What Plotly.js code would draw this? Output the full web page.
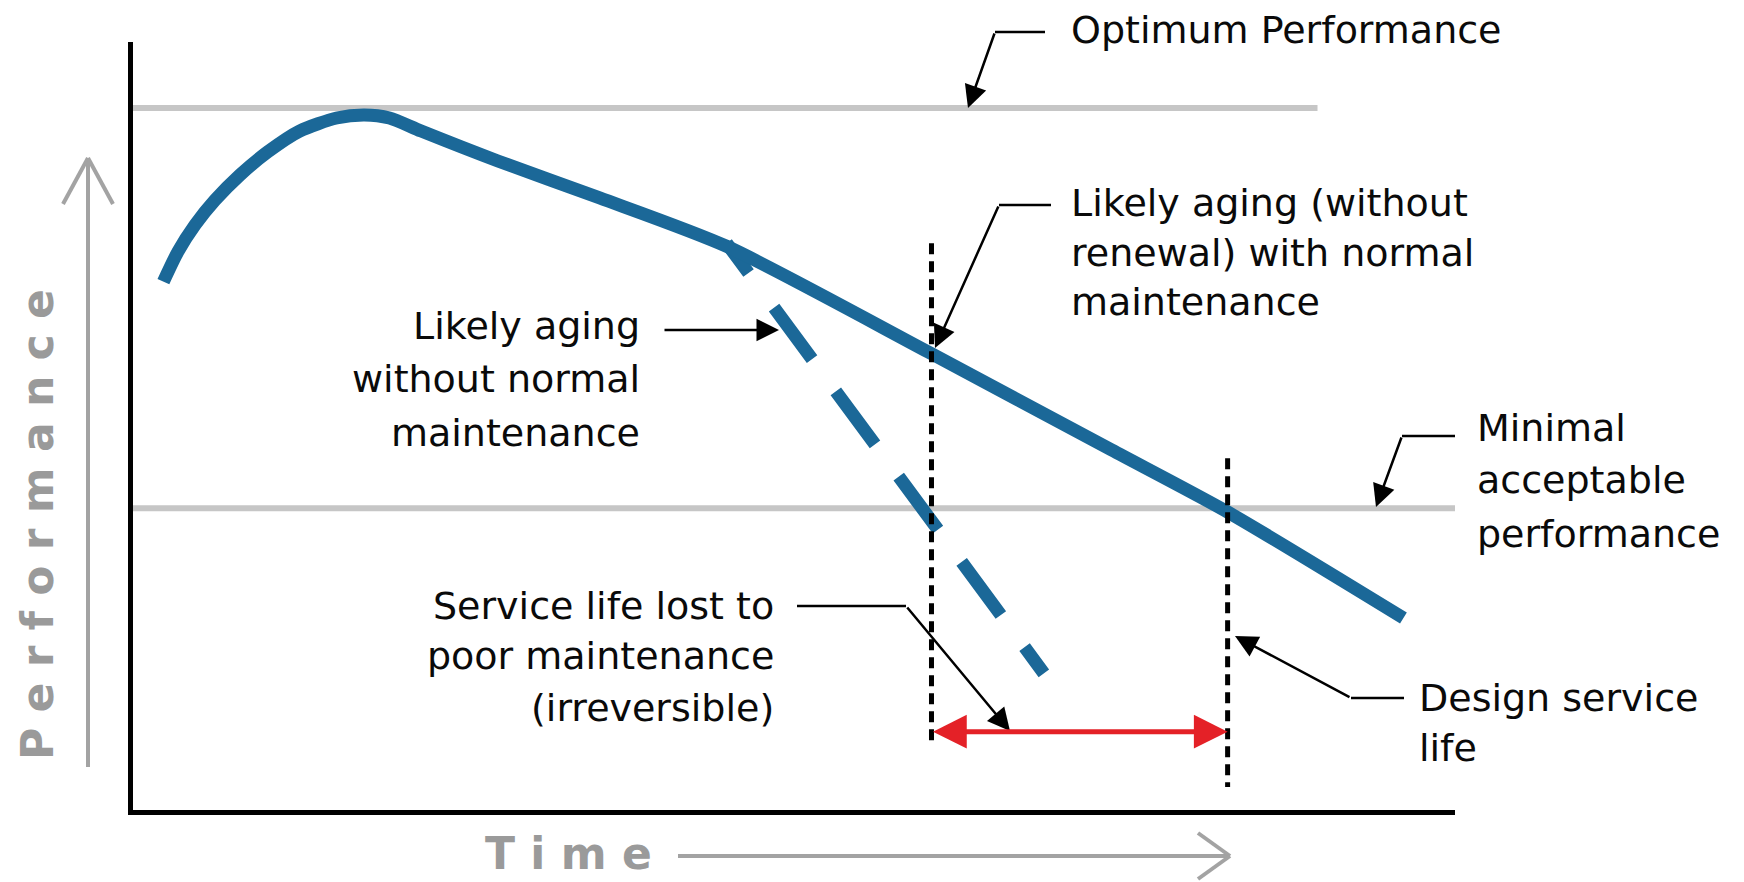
<!DOCTYPE html>
<html>
<head>
<meta charset="utf-8">
<script src="https://cdn.plot.ly/plotly-3.0.1.min.js"></script>
<style>html,body{margin:0;padding:0;background:#fff;}#chart{width:1744px;height:882px;}</style>
</head>
<body>
<div id="chart"></div>
<script>
// ---- data (schematic units: time 0-100, performance 0-100) ----
const timeMain = [2.3, 3.4, 4.7, 6.2, 8.1, 10.2, 12.6, 15.4, 17.5, 19.4, 21.8, 27.6, 35.3, 44.9, 60.2, 74.0, 82.8, 96.1];
const perfMain = [68.8, 72.7, 76.2, 79.4, 82.7, 85.7, 88.4, 90.1, 90.5, 90.1, 88.4, 84.5, 79.7, 73.4, 59.6, 46.9, 38.8, 25.0];
const timeNoMaint = [44.9, 68.9];
const perfNoMaint = [73.8, 17.8];
const optimumSpan = [0, 89.6];
const optimumLevel = [91.4, 91.4];
const minimalSpan = [0, 100];
const minimalLevel = [39.3, 39.3];
const lossStartTime = [60.4, 60.4];
const lossStartPerf = [73.8, 8.7];
const designLifeTime = [82.8, 82.8];
const designLifePerf = [45.8, 3.0];
const lostLifeArrow = {from: 60.4, to: 82.8, level: 10.2};

const optimumLines = ["Optimum Performance"];
const normalLines = ["Likely aging (without", "renewal) with normal", "maintenance"];
const noMaintLines = ["Likely aging", "without normal", "maintenance"];
const minimalLines = ["Minimal", "acceptable", "performance"];
const lostLines = ["Service life lost to", "poor maintenance", "(irreversible)"];
const designLines = ["Design service", "life"];
const yTitle = "Performance";
const xTitle = "Time";

// ---- layout geometry (pixels) ----
const PL = 133, PT = 42, PW = 1322, PH = 768;
const PX = p => (p - PL) / PW;
const PY = p => (PT + PH - p) / PH;
const BLUE = "#1b6898";
const GRAY = "#c6c6c6";
const F = 38;

function textBlock(lines, xPx, centersPx, anchor) {
  return lines.map((t, i) => ({xref: "paper", yref: "paper", x: PX(xPx), y: PY(centersPx[i]),
    xanchor: anchor, yanchor: "middle", align: anchor, text: t, showarrow: false, borderpad: 0,
    font: {family: "DejaVu Sans", size: F, color: "#0a0a0a"}}));
}
function callout(tip, tail) {
  return {xref: "paper", yref: "paper", x: PX(tip[0]), y: PY(tip[1]), ax: tail[0] - tip[0], ay: tail[1] - tip[1],
    text: "", showarrow: true, arrowhead: 2, arrowsize: 1.8, arrowwidth: 2.5, arrowcolor: "#000", standoff: 0};
}
function seg(a, b, color, width) {
  return {type: "line", xref: "paper", yref: "paper", x0: PX(a[0]), y0: PY(a[1]), x1: PX(b[0]), y1: PY(b[1]),
    line: {color: color, width: width}};
}
const spaced = s => "<b>" + s.split("").join("\u00A0") + "</b>";
const titleFont = {family: "DejaVu Sans", size: 44, color: "#9a9a9a", weight: "bold"};

const traces = [
  {x: optimumSpan, y: optimumLevel, mode: "lines", line: {color: GRAY, width: 6}, hoverinfo: "skip"},
  {x: minimalSpan, y: minimalLevel, mode: "lines", line: {color: GRAY, width: 6}, hoverinfo: "skip"},
  {x: timeNoMaint, y: perfNoMaint, mode: "lines",
   line: {color: BLUE, width: 13, dash: "37px,43px,64px,40px,66px,40px,66px,40px,66px,40px,40px,200px"}, hoverinfo: "skip"},
  {x: timeMain, y: perfMain, mode: "lines", line: {color: BLUE, width: 13, shape: "spline", smoothing: 0.7}, hoverinfo: "skip"},
  {x: lossStartTime, y: lossStartPerf, mode: "lines", line: {color: "#000", width: 5, dash: "11px,7px"}, hoverinfo: "skip"},
  {x: designLifeTime, y: designLifePerf, mode: "lines", line: {color: "#000", width: 5, dash: "11px,7px"}, hoverinfo: "skip"}
];

const annotations = [].concat(
  textBlock(optimumLines, 1070, [30], "left"),
  textBlock(normalLines, 1070, [203, 253, 302], "left"),
  textBlock(noMaintLines, 641, [326, 379, 433], "right"),
  textBlock(minimalLines, 1476, [428, 480, 534], "left"),
  textBlock(lostLines, 775, [606, 656, 708], "right"),
  textBlock(designLines, 1418, [698, 748], "left"),
  [
  callout([968, 108], [995, 32]),
  callout([935, 348], [999, 205]),
  callout([779, 330], [663, 330]),
  callout([1376, 507], [1402, 436]),
  callout([1010, 731], [906, 606]),
  callout([1235, 636], [1351, 698]),
  {xref: "x", yref: "y", axref: "x", ayref: "y", x: lostLifeArrow.to, y: lostLifeArrow.level,
   ax: lostLifeArrow.from, ay: lostLifeArrow.level, text: "", showarrow: true, arrowside: "end+start",
   arrowhead: 2, startarrowhead: 2, arrowsize: 1.35, startarrowsize: 1.35, arrowwidth: 5, arrowcolor: "#e42127", standoff: 0, startstandoff: 0},
  {xref: "paper", yref: "paper", x: PX(37), y: PY(525), xanchor: "center", yanchor: "middle", textangle: -90,
   text: spaced(yTitle), showarrow: false, font: titleFont},
  {xref: "paper", yref: "paper", x: PX(568), y: PY(853), xanchor: "center", yanchor: "middle",
   text: spaced(xTitle), showarrow: false, font: titleFont}
  ]
);

const AG = "#a3a3a3";
const shapes = [
  seg([1045, 32], [995, 32], "#000", 2.5),
  seg([1051, 205], [999, 205], "#000", 2.5),
  seg([1455, 436], [1402, 436], "#000", 2.5),
  seg([797, 606], [906, 606], "#000", 2.5),
  seg([1404, 698], [1351, 698], "#000", 2.5),
  seg([88, 767], [88, 158], AG, 4),
  seg([88, 158], [63, 204], AG, 4),
  seg([88, 158], [113, 204], AG, 4),
  seg([678, 856], [1230, 856], AG, 4),
  seg([1230, 856], [1198, 833], AG, 4),
  seg([1230, 856], [1198, 879], AG, 4)
];

const axisStyle = {range: [0, 100], showgrid: false, zeroline: false, showticklabels: false, ticks: "",
  showline: true, linecolor: "#000", linewidth: 5, fixedrange: true};

const layout = {
  width: 1744, height: 882,
  margin: {l: PL, r: 1744 - PL - PW, t: PT, b: 882 - PT - PH, pad: 0},
  paper_bgcolor: "#fff", plot_bgcolor: "#fff", showlegend: false,
  xaxis: Object.assign({}, axisStyle),
  yaxis: Object.assign({}, axisStyle),
  annotations: annotations, shapes: shapes
};

Plotly.newPlot("chart", traces, layout, {displayModeBar: false, staticPlot: true});
</script>
</body>
</html>
